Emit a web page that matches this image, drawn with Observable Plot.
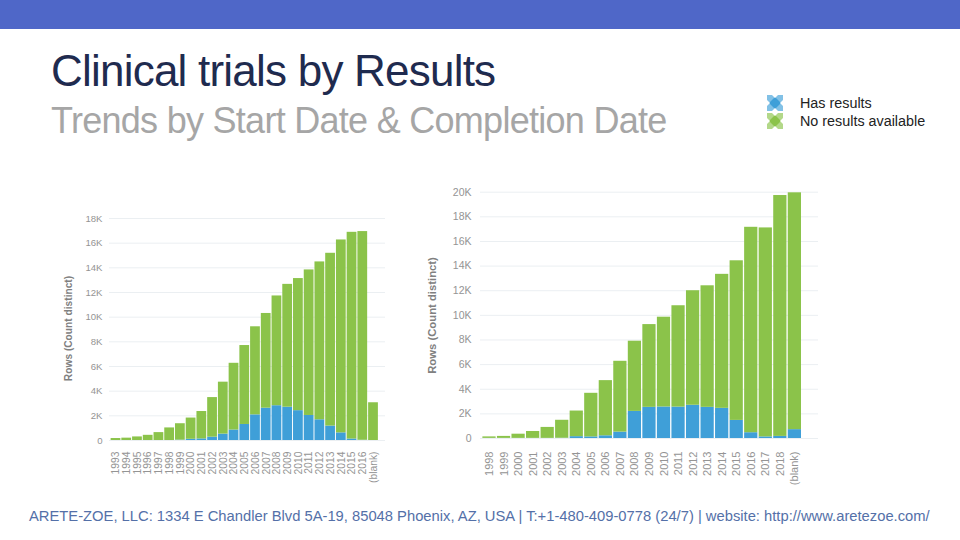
<!DOCTYPE html>
<html><head><meta charset="utf-8">
<script src="https://cdn.jsdelivr.net/npm/d3@7"></script>
<script src="https://cdn.jsdelivr.net/npm/@observablehq/plot@0.6"></script>
<style>
html,body{margin:0;padding:0;background:#fff}
body{width:960px;height:540px;position:relative;overflow:hidden;font-family:"Liberation Sans",Arial,sans-serif}
.band{position:absolute;left:0;top:0;width:960px;height:29px;background:#4F67C8}
.t{position:absolute;white-space:nowrap}
#title{left:51px;top:44px;font-size:44px;letter-spacing:-.78px;color:#1F2B4F;line-height:54px}
#subtitle{left:51px;top:98px;font-size:36px;letter-spacing:-.72px;color:#A6A6A6;line-height:46px}
#footer{left:29px;top:507px;font-size:14.76px;color:#5470A8;line-height:18px}
.leg{font-size:14.35px;color:#222;line-height:18px}
.sw{position:absolute;width:16px;height:16px}
.chart{position:absolute}
.chart svg{overflow:visible;background:transparent}
</style></head><body>
<div class="band"></div>
<div id="title" class="t">Clinical trials by Results</div>
<div id="subtitle" class="t">Trends by Start Date &amp; Completion Date</div>
<div id="sw1" class="sw" style="left:767px;top:95px"></div>
<div class="t leg" style="left:800px;top:94px">Has results</div>
<div id="sw2" class="sw" style="left:767px;top:113px"></div>
<div class="t leg" style="left:800px;top:112px">No results available</div>
<div id="left" class="chart" style="left:60px;top:200px"></div>
<div id="right" class="chart" style="left:420px;top:175px"></div>
<div id="footer" class="t">ARETE-ZOE, LLC: 1334 E Chandler Blvd 5A-19, 85048 Phoenix, AZ, USA | T:+1-480-409-0778 (24/7) | website: http://www.aretezoe.com/</div>
<script>
const seriesNames = ["Has results", "No results available"];
const seriesColors = ["#3F9FD8", "#8BC34A"];

const startCats = ["1993","1994","1995","1996","1997","1998","1999","2000","2001","2002","2003","2004","2005","2006","2007","2008","2009","2010","2011","2012","2013","2014","2015","2016","(blank)"];
const startHas = [0,0,0,0,0,0,30,100,130,270,520,850,1300,2080,2620,2820,2700,2420,2030,1680,1170,620,120,20,0];
const startNo = [160,190,290,420,640,1020,1330,1720,2220,3210,4210,5410,6400,7140,7680,8900,9960,10710,11800,12800,14010,15640,16760,16920,3060];

const endCats = ["1998","1999","2000","2001","2002","2003","2004","2005","2006","2007","2008","2009","2010","2011","2012","2013","2014","2015","2016","2017","2018","(blank)"];
const endHas = [10,10,10,10,10,20,150,130,220,520,2200,2530,2560,2550,2700,2530,2450,1470,470,130,170,720];
const endNo = [120,160,340,560,890,1460,2080,3540,4480,5750,5700,6720,7290,8230,9300,9870,10880,12960,16680,16970,19560,19230];

const startTicks = [0,2000,4000,6000,8000,10000,12000,14000,16000,18000];
const endTicks = [0,2000,4000,6000,8000,10000,12000,14000,16000,18000,20000];

function rows(cats, has, no) {
  return cats.flatMap((c, i) => [
    {cat: c, series: seriesNames[0], value: has[i]},
    {cat: c, series: seriesNames[1], value: no[i]}
  ]);
}
const fmt = d => d === 0 ? "0" : (d / 1000) + "K";

function chart(o) {
  return Plot.plot({
    width: o.width, height: o.height,
    marginLeft: o.ml, marginRight: o.mr, marginTop: o.mt, marginBottom: o.mb,
    style: {fontFamily: '"Liberation Sans",Arial,sans-serif', background: "transparent"},
    x: {type: "band", domain: o.cats, range: o.xr, padding: 0.09, align: 0.5, round: false},
    y: {domain: o.yd, range: o.yr},
    color: {domain: seriesNames, range: seriesColors},
    marks: [
      Plot.gridY(o.ticks, {stroke: "#EBEFF2", strokeOpacity: 1, strokeWidth: 1}),
      Plot.barY(rows(o.cats, o.has, o.no), {x: "cat", y: "value", fill: "series", order: seriesNames}),
      Plot.axisY({ticks: o.ticks, tickFormat: fmt, tickSize: 0, tickPadding: o.yp, fontSize: o.fs, fill: "#949494",
        label: null}),
      Plot.axisX({tickRotate: -90, tickSize: 0, tickPadding: o.xp, fontSize: o.xfs, fill: "#949494", label: null}),
      Plot.text(["Rows (Count distinct)"], {
        frameAnchor: "left", dx: o.ldx, dy: o.ldy, rotate: -90, textAnchor: "middle",
        fontSize: o.ls, fontWeight: "bold", fill: "#808080"
      })
    ]
  });
}

document.getElementById("left").append(chart({
  cats: startCats, has: startHas, no: startNo, ticks: startTicks,
  width: 340, height: 290, ml: 49, mr: 15, mt: 10, mb: 50,
  xr: [49.65, 318.85], yr: [240, 18], yd: [0, 18000], fs: 9.6, xfs: 10.3, yp: 7, xp: 11, ls: 10.2, ldx: -41, ldy: 3
}));
document.getElementById("right").append(chart({
  cats: endCats, has: endHas, no: endNo, ticks: endTicks,
  width: 410, height: 320, ml: 60, mr: 12, mt: 10, mb: 57,
  xr: [61.08, 382.3], yr: [263, 16.7], yd: [0, 20000], fs: 10.5, xfs: 11, yp: 9, xp: 13, ls: 11.3, ldx: -48, ldy: 3.5
}));

// Legend swatches: pale square, solid centre diamond, small white notches on each side
[["sw1", seriesColors[0]], ["sw2", seriesColors[1]]].forEach(([id, col]) => {
  const s = d3.select("#" + id).append("svg").attr("width", 16).attr("height", 16);
  s.append("rect").attr("width", 16).attr("height", 16).attr("fill", col).attr("fill-opacity", 0.65);
  s.append("polygon").attr("points", "8,2 14,8 8,14 2,8").attr("fill", col);
  ["8,3 5,0 11,0", "8,13 5,16 11,16", "3,8 0,5 0,11", "13,8 16,5 16,11"].forEach(p =>
    s.append("polygon").attr("points", p).attr("fill", "#fff"));
});
</script>
</body></html>
